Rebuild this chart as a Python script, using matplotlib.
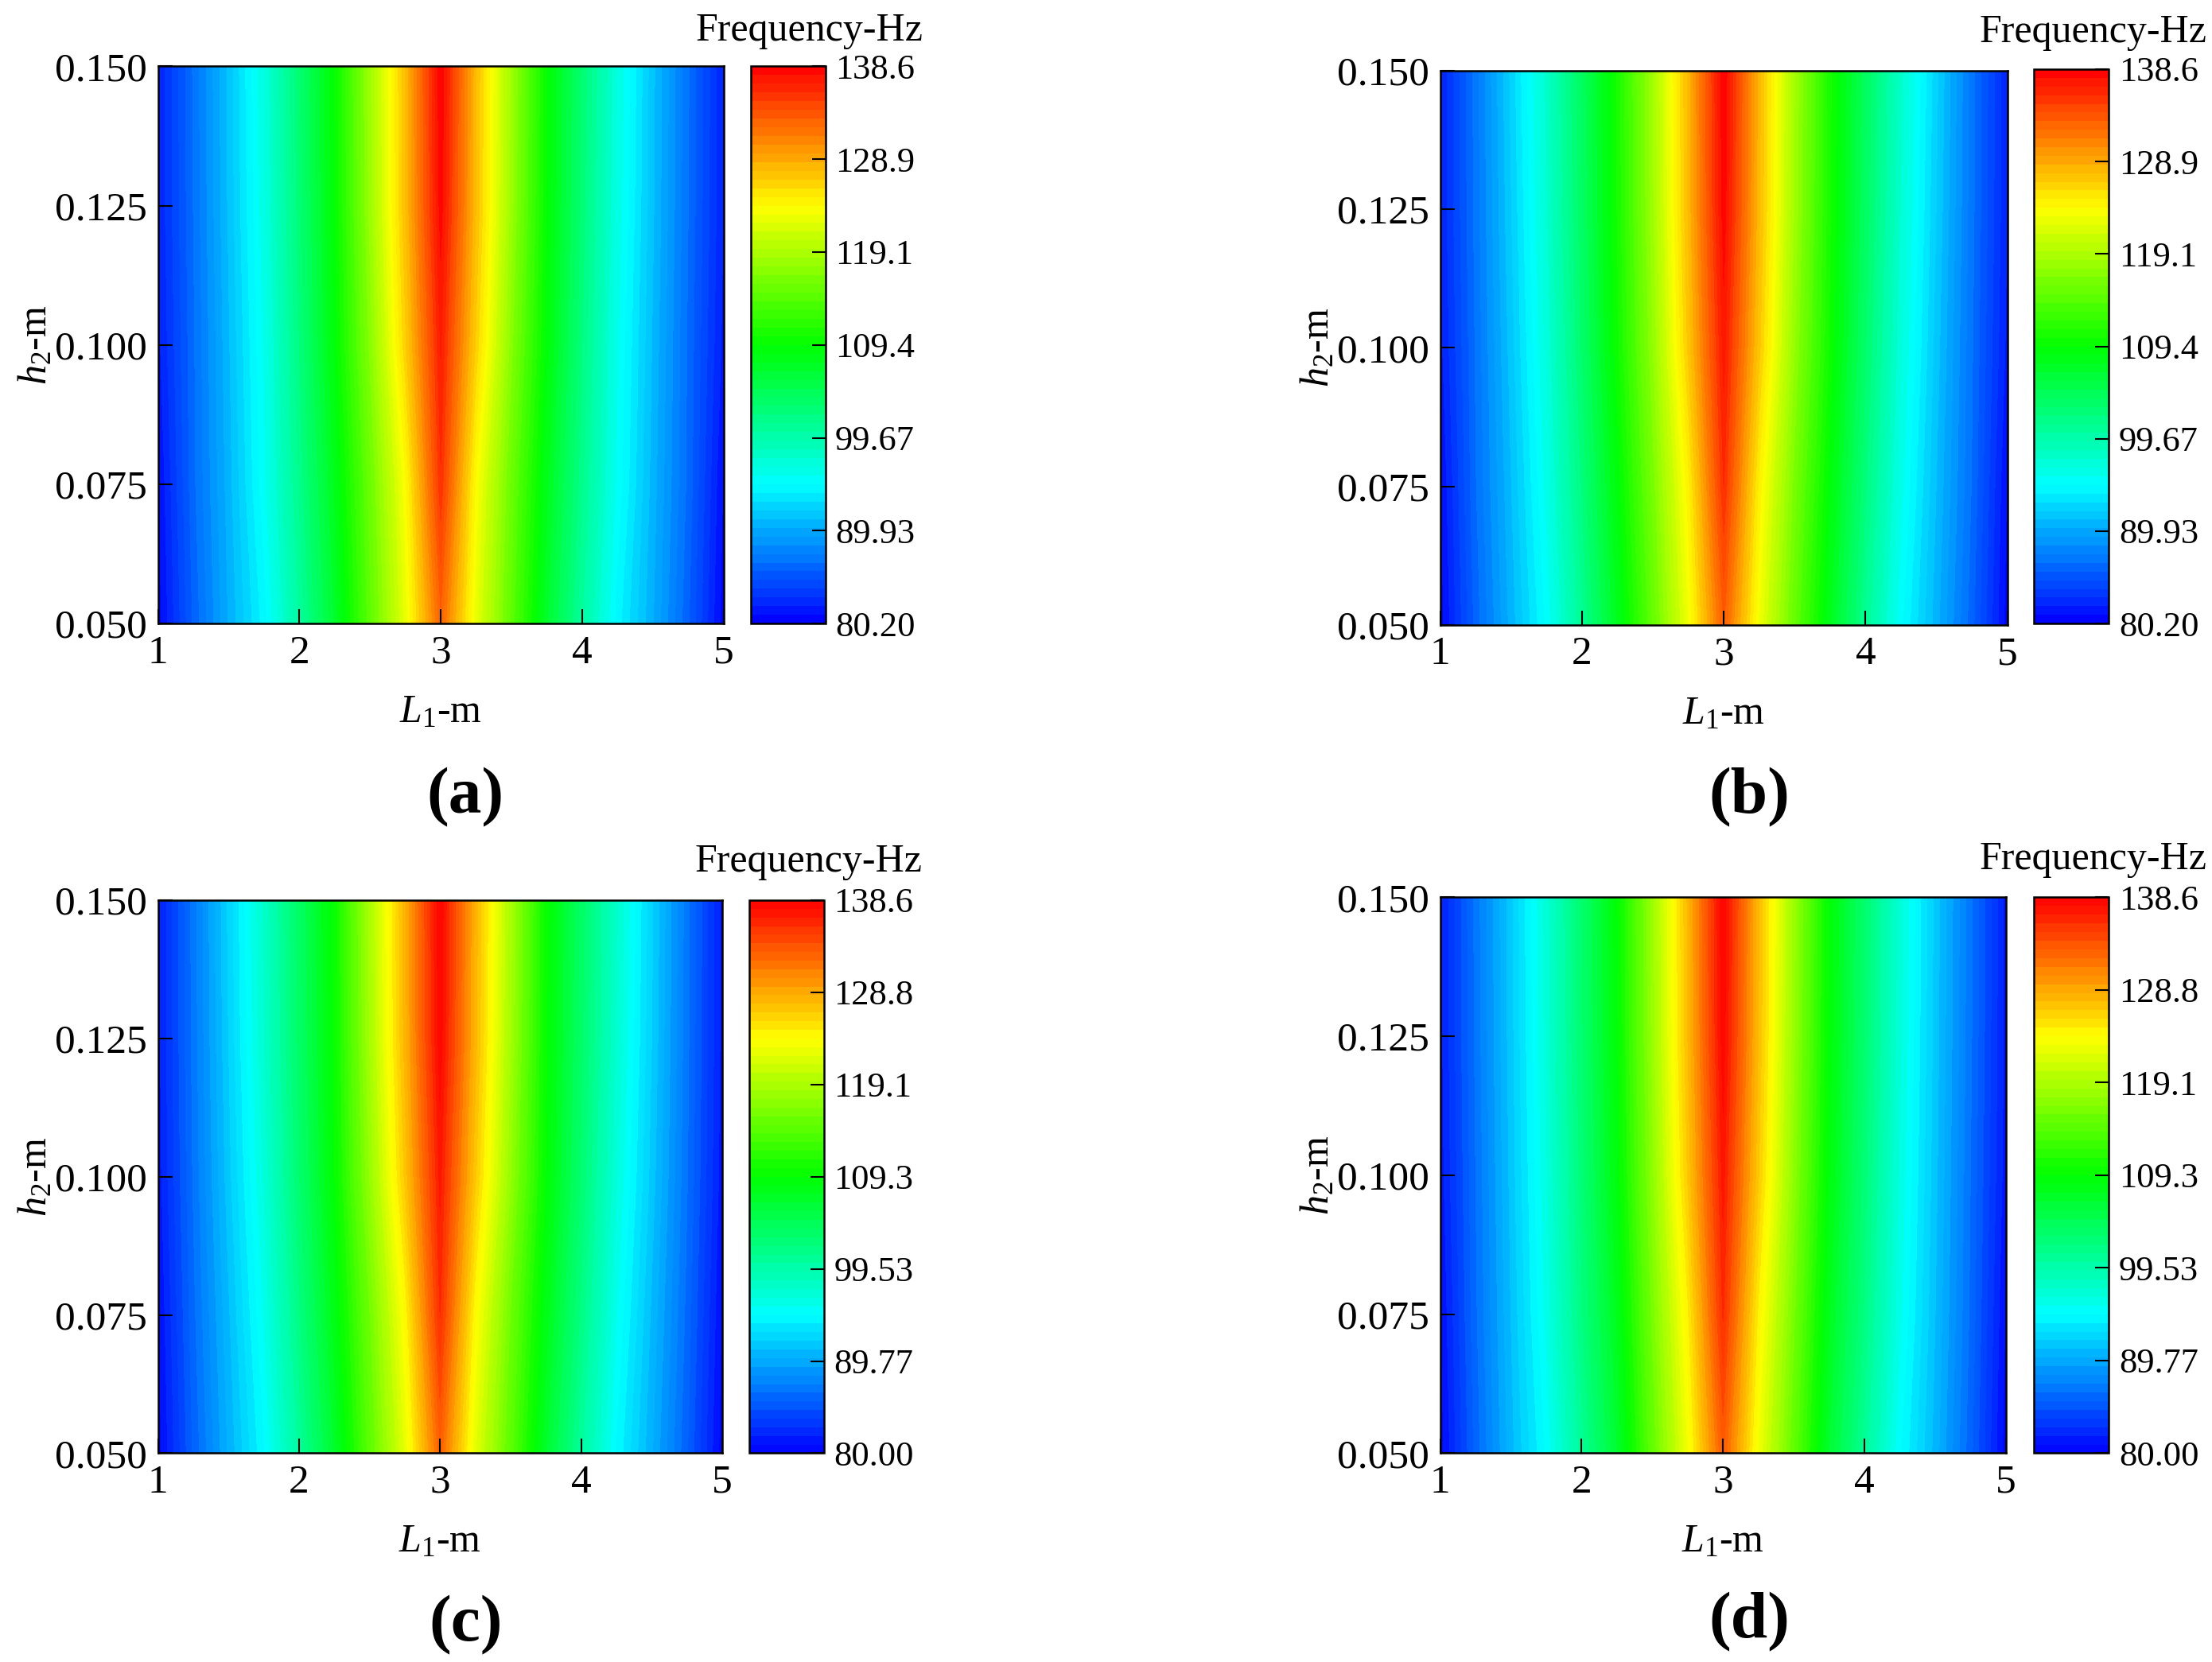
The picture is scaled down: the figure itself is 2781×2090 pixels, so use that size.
import numpy as np
import matplotlib.pyplot as plt
from matplotlib.colors import LinearSegmentedColormap

plt.rcParams['font.family'] = ['Liberation Serif', 'DejaVu Serif']
plt.rcParams['mathtext.fontset'] = 'custom'
plt.rcParams['mathtext.rm'] = 'Liberation Serif'
plt.rcParams['mathtext.it'] = 'Liberation Serif:italic'

# grid
L1 = [1.0, 1.25, 1.5, 1.75, 2.0, 2.25, 2.5, 2.75, 3.0, 3.25, 3.5, 3.75, 4.0, 4.25, 4.5, 4.75, 5.0]
h2 = [0.05, 0.075, 0.1, 0.125, 0.15]

freq_a = [
    [80.6, 85.8, 90.3, 94.3, 100.3, 106.8, 114.6, 122.5, 132.8, 122.5, 114.6, 106.8, 100.3, 94.3, 90.3, 85.8, 80.6],
    [81.0, 86.3, 90.7, 95.4, 101.4, 107.8, 115.4, 123.7, 135.7, 123.7, 115.4, 107.8, 101.4, 95.4, 90.7, 86.3, 81.0],
    [81.7, 86.4, 91.0, 95.8, 102.1, 108.9, 117.0, 126.5, 136.9, 126.5, 117.0, 108.9, 102.1, 95.8, 91.0, 86.4, 81.7],
    [82.0, 86.6, 91.3, 96.3, 102.6, 109.3, 118.0, 127.6, 138.2, 127.6, 118.0, 109.3, 102.6, 96.3, 91.3, 86.6, 82.0],
    [82.0, 86.7, 91.4, 96.6, 102.9, 109.4, 118.2, 127.7, 138.6, 127.7, 118.2, 109.4, 102.9, 96.6, 91.4, 86.7, 82.0],
]
freq_b = [
    [80.6, 86.0, 90.6, 95.0, 101.0, 107.7, 115.0, 123.0, 133.2, 123.0, 115.0, 107.7, 101.0, 95.0, 90.6, 86.0, 80.6],
    [81.0, 86.5, 91.1, 96.0, 102.2, 108.8, 116.2, 124.5, 135.9, 124.5, 116.2, 108.8, 102.2, 96.0, 91.1, 86.5, 81.0],
    [81.7, 86.7, 91.6, 96.8, 103.2, 110.0, 117.6, 127.0, 137.2, 127.0, 117.6, 110.0, 103.2, 96.8, 91.6, 86.7, 81.7],
    [82.0, 86.9, 92.0, 97.4, 103.7, 110.4, 118.3, 127.8, 138.3, 127.8, 118.3, 110.4, 103.7, 97.4, 92.0, 86.9, 82.0],
    [82.0, 87.0, 92.3, 97.8, 104.0, 110.5, 118.5, 128.0, 138.6, 128.0, 118.5, 110.5, 104.0, 97.8, 92.3, 87.0, 82.0],
]
freq_c = [
    [80.4, 85.6, 90.2, 94.5, 100.3, 106.7, 114.4, 122.2, 132.9, 122.2, 114.4, 106.7, 100.3, 94.5, 90.2, 85.6, 80.4],
    [80.8, 86.1, 90.8, 95.6, 101.7, 108.0, 115.6, 124.0, 135.9, 124.0, 115.6, 108.0, 101.7, 95.6, 90.8, 86.1, 80.8],
    [81.3, 86.5, 91.5, 96.6, 102.8, 109.2, 117.6, 126.9, 137.1, 126.9, 117.6, 109.2, 102.8, 96.6, 91.5, 86.5, 81.3],
    [81.5, 86.7, 91.9, 97.3, 103.3, 109.5, 118.5, 128.0, 138.3, 128.0, 118.5, 109.5, 103.3, 97.3, 91.9, 86.7, 81.5],
    [81.5, 86.8, 92.1, 97.6, 103.5, 109.6, 118.8, 128.2, 138.6, 128.2, 118.8, 109.6, 103.5, 97.6, 92.1, 86.8, 81.5],
]
freq_d = [
    [80.4, 85.8, 90.6, 94.8, 100.6, 106.5, 114.8, 123.0, 133.3, 123.0, 114.8, 106.5, 100.6, 94.8, 90.6, 85.8, 80.4],
    [80.8, 86.2, 91.0, 95.8, 101.8, 107.6, 116.0, 124.6, 136.0, 124.6, 116.0, 107.6, 101.8, 95.8, 91.0, 86.2, 80.8],
    [81.3, 86.4, 91.3, 96.3, 102.4, 108.6, 117.2, 126.8, 137.2, 126.8, 117.2, 108.6, 102.4, 96.3, 91.3, 86.4, 81.3],
    [81.5, 86.6, 91.5, 96.7, 102.8, 109.0, 117.8, 127.6, 138.3, 127.6, 117.8, 109.0, 102.8, 96.7, 91.5, 86.6, 81.5],
    [81.5, 86.7, 91.6, 96.9, 103.0, 109.1, 118.0, 127.8, 138.6, 127.8, 118.0, 109.1, 103.0, 96.9, 91.6, 86.7, 81.5],
]

cbar_labels_ab = ['80.20', '89.93', '99.67', '109.4', '119.1', '128.9', '138.6']
cbar_labels_cd = ['80.00', '89.77', '99.53', '109.3', '119.1', '128.8', '138.6']
xticks = [1, 2, 3, 4, 5]
yticks = [0.05, 0.075, 0.1, 0.125, 0.15]
ytick_labels = ['0.050', '0.075', '0.100', '0.125', '0.150']

cmap = LinearSegmentedColormap.from_list(
    'origin_rainbow', ['#0000ff', '#00ffff', '#00ff00', '#ffff00', '#ff0000'])

fig = plt.figure(figsize=(27.81, 20.90), dpi=100)

# (data, vmin, vmax, labels, axes rect, cbar rect, title pos, letter, letter pos)
panels = [
    (freq_a, 80.2, 138.6, cbar_labels_ab, [0.0714, 0.6248, 0.2557, 0.3353], [0.3393, 0.6248, 0.0338, 0.3353],
     (0.366, 0.9813), '(a)', (0.2105, 0.5204)),
    (freq_b, 80.2, 138.6, cbar_labels_ab, [0.6511, 0.6239, 0.2564, 0.3337], [0.9196, 0.6248, 0.0338, 0.3336],
     (0.9464, 0.9805), '(b)', (0.7908, 0.5204)),
    (freq_c, 80.0, 138.6, cbar_labels_cd, [0.0714, 0.1256, 0.2551, 0.3328], [0.3386, 0.1256, 0.0338, 0.3328],
     (0.3654, 0.4813), '(c)', (0.2105, 0.0221)),
    (freq_d, 80.0, 138.6, cbar_labels_cd, [0.6511, 0.1256, 0.2557, 0.3345], [0.9196, 0.1256, 0.0338, 0.3345],
     (0.9464, 0.4830), '(d)', (0.7908, 0.0238)),
]

fs = 37
for data, vmin, vmax, cb_labels, rect, crect, tpos, letter, lpos in panels:
    ax = fig.add_axes(rect)
    levels = np.linspace(vmin, vmax, 65)
    cs = ax.contourf(L1, h2, np.array(data), levels=levels, cmap=cmap, vmin=vmin, vmax=vmax)
    ax.set_xlim(1, 5)
    ax.set_ylim(0.05, 0.15)
    ax.set_xticks(xticks)
    ax.set_yticks(yticks)
    ax.set_yticklabels(ytick_labels)
    ax.tick_params(direction='in', length=13, width=1.5, labelsize=fs, pad=10,
                   top=False, right=False)
    for sp in ax.spines.values():
        sp.set_linewidth(1.8)
    ax.set_xlabel(r'$\mathit{L}_{\mathrm{1}}$-m', fontsize=36, labelpad=20)
    ax.set_ylabel(r'$\mathit{h}_{\mathrm{2}}$-m', fontsize=36, labelpad=0)

    cax = fig.add_axes(crect)
    cb = fig.colorbar(cs, cax=cax, ticks=np.linspace(vmin, vmax, 7))
    cb.ax.set_yticklabels(cb_labels)
    cb.ax.tick_params(direction='in', length=12, width=1.5, labelsize=32, pad=9)
    cb.outline.set_linewidth(1.8)

    fig.text(tpos[0], tpos[1], 'Frequency-Hz', fontsize=36, ha='center', va='center')
    fig.text(lpos[0], lpos[1], letter, fontsize=60, fontweight='bold', ha='center', va='center')

fig.savefig('out.png', dpi=100)
